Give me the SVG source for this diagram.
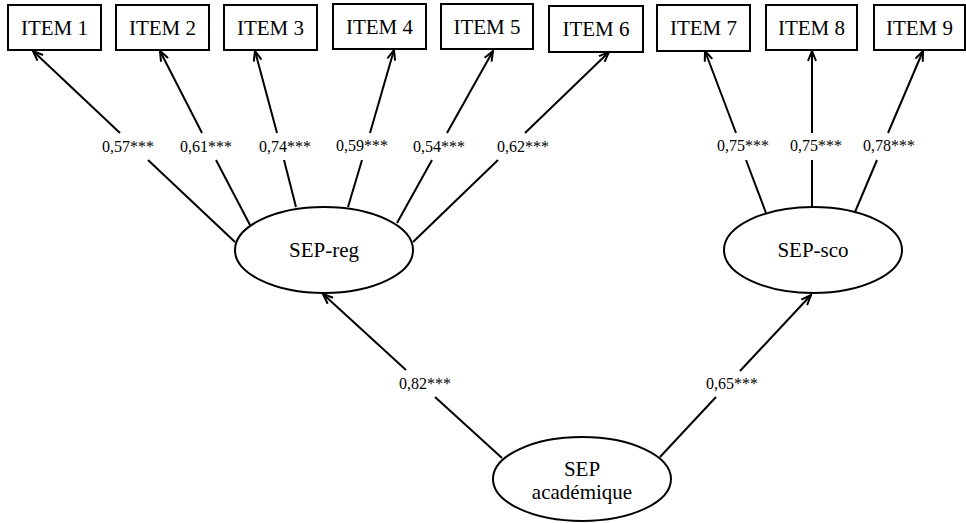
<svg xmlns="http://www.w3.org/2000/svg" width="966" height="523" viewBox="0 0 966 523">
<style>
.box{fill:#fff;stroke:#000;stroke-width:2}
.ell{fill:#fff;stroke:#000;stroke-width:2}
.ln{stroke:#000;stroke-width:2;fill:none}
.ar{marker-end:url(#arr)}
.t{font-family:"Liberation Serif","Times New Roman",serif;font-size:21px;fill:#000;text-anchor:middle}
.lbl{font-family:"Liberation Serif","Times New Roman",serif;font-size:16px;fill:#000;text-anchor:middle}
</style>
<defs>
<marker id="arr" viewBox="0 0 12 10" refX="11" refY="5" markerWidth="12" markerHeight="10" markerUnits="userSpaceOnUse" orient="auto">
<path d="M1,1 L11,5 L1,9" fill="none" stroke="#000" stroke-width="2"/>
</marker>
</defs>
<rect width="966" height="523" fill="#fff"/>
<g id="connectors">
<line class="ln" x1="235" y1="242" x2="148" y2="160"/><line class="ln ar" x1="120" y1="133" x2="33" y2="51"/>
<line class="ln" x1="250" y1="225" x2="216" y2="160"/><line class="ln ar" x1="202" y1="133" x2="160" y2="51"/>
<line class="ln" x1="296" y1="207" x2="284" y2="160"/><line class="ln ar" x1="277" y1="133" x2="255" y2="51"/>
<line class="ln" x1="348" y1="207" x2="362" y2="160"/><line class="ln ar" x1="370" y1="133" x2="394" y2="50"/>
<line class="ln" x1="397" y1="223" x2="432" y2="160"/><line class="ln ar" x1="447" y1="133" x2="493" y2="51"/>
<line class="ln" x1="413" y1="242" x2="498" y2="160"/><line class="ln ar" x1="525" y1="133" x2="609" y2="52"/>
<line class="ln" x1="766" y1="213" x2="746" y2="160"/><line class="ln ar" x1="736" y1="133" x2="705" y2="51"/>
<line class="ln" x1="812" y1="207" x2="812" y2="160"/><line class="ln ar" x1="812" y1="133" x2="812" y2="51"/>
<line class="ln" x1="855" y1="212" x2="877" y2="160"/><line class="ln ar" x1="888" y1="133" x2="923" y2="51"/>
<line class="ln" x1="502" y1="458" x2="435" y2="397"/><line class="ln ar" x1="406" y1="370" x2="323" y2="294"/>
<line class="ln" x1="660" y1="457" x2="716" y2="397"/><line class="ln ar" x1="740" y1="371" x2="811" y2="295"/>
<text class="lbl" x="128" y="152">0,57***</text>
<text class="lbl" x="206" y="152">0,61***</text>
<text class="lbl" x="285" y="152">0,74***</text>
<text class="lbl" x="362" y="151">0,59***</text>
<text class="lbl" x="439" y="152">0,54***</text>
<text class="lbl" x="523" y="152">0,62***</text>
<text class="lbl" x="743" y="151">0,75***</text>
<text class="lbl" x="816" y="151">0,75***</text>
<text class="lbl" x="889" y="151">0,78***</text>
<text class="lbl" x="425" y="389">0,82***</text>
<text class="lbl" x="732" y="389">0,65***</text>
</g>
<g id="item1"><rect class="box" x="8" y="5" width="93" height="45"/><text class="t" x="54.5" y="35">ITEM 1</text></g>
<g id="item2"><rect class="box" x="116" y="5" width="93" height="45"/><text class="t" x="162.5" y="35">ITEM 2</text></g>
<g id="item3"><rect class="box" x="224" y="5" width="93" height="45"/><text class="t" x="270.5" y="35">ITEM 3</text></g>
<g id="item4"><rect class="box" x="333" y="4" width="93" height="45"/><text class="t" x="379.5" y="34">ITEM 4</text></g>
<g id="item5"><rect class="box" x="441" y="4" width="92" height="45"/><text class="t" x="487" y="34">ITEM 5</text></g>
<g id="item6"><rect class="box" x="549" y="6" width="94" height="46"/><text class="t" x="596" y="36">ITEM 6</text></g>
<g id="item7"><rect class="box" x="657" y="5" width="93" height="46"/><text class="t" x="703.5" y="35">ITEM 7</text></g>
<g id="item8"><rect class="box" x="766" y="5" width="91" height="45"/><text class="t" x="811.5" y="35">ITEM 8</text></g>
<g id="item9"><rect class="box" x="874" y="5" width="91" height="45"/><text class="t" x="919.5" y="35">ITEM 9</text></g>
<g id="sep-reg"><ellipse class="ell" cx="324" cy="250" rx="89" ry="43"/><text class="t" x="324" y="257">SEP-reg</text></g>
<g id="sep-sco"><ellipse class="ell" cx="813" cy="250" rx="89" ry="43"/><text class="t" x="813" y="257">SEP-sco</text></g>
<g id="sep-academique"><ellipse class="ell" cx="582" cy="479" rx="89" ry="42"/><text class="t" x="582" y="476">SEP</text><text class="t" x="582" y="499">académique</text></g>
</svg>
